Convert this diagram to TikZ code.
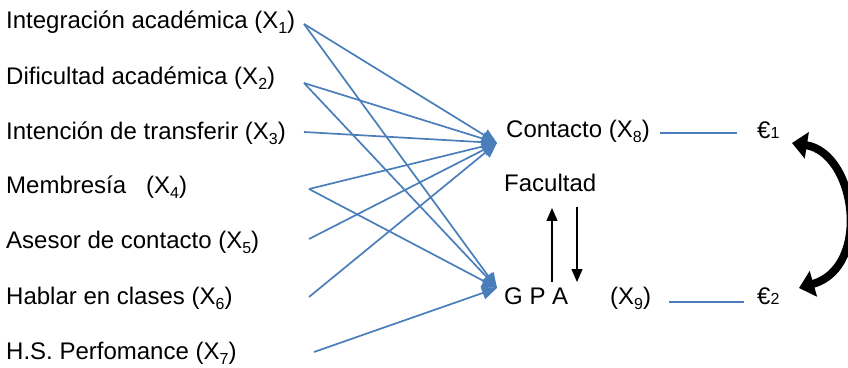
\documentclass[tikz,border=0pt]{standalone}
\usepackage{fontspec}
\setmainfont{Liberation Sans}
\usetikzlibrary{arrows.meta}
\definecolor{lineblue}{HTML}{4A7EBB}
\newcommand{\sbs}[1]{\raisebox{-5pt}{\fontsize{16}{16}\selectfont #1}}
\begin{document}
\begin{tikzpicture}[x=1pt,y=1pt,
  lbl/.style={anchor=base west, inner sep=0pt, font=\fontsize{24}{28}\selectfont},
  path/.style={draw=lineblue, line width=1.7pt, -{Triangle[length=15pt,width=13pt]}},
  plain/.style={draw=lineblue, line width=1.7pt},
  blk/.style={draw=black, line width=1.3pt, -{Triangle[length=13pt,width=11pt]}},
  corr/.style={draw=black, line width=8pt, {Triangle[length=15pt,width=26pt]}-{Triangle[length=15pt,width=26pt]}}]
\useasboundingbox (0,0) rectangle (848,367);
% left labels
\node[lbl] (x1) at (6,338) {Integración académica (X\sbs{1})};
\node[lbl] (x2) at (6,282) {Dificultad académica (X\sbs{2})};
\node[lbl] (x3) at (6,227) {Intención de transferir (X\sbs{3})};
\node[lbl] (x4) at (6,173) {Membresía \ \ (X\sbs{4})};
\node[lbl] (x5) at (6,118) {Asesor de contacto (X\sbs{5})};
\node[lbl] (x6) at (6,63) {Hablar en clases (X\sbs{6})};
\node[lbl] (x7) at (6,8) {H.S. Perfomance (X\sbs{7})};
% right labels
\node[lbl] (con) at (506,229) {Contacto (X\sbs{8})};
\node[lbl] (fac) at (504,175) {Facultad};
\node[lbl] (gpa) at (504,63) {G P A};
\node[lbl] (x9) at (610,63) {(X\sbs{9})};
\node[lbl] (e1) at (757,228) {€{\fontsize{16}{16}\selectfont 1}};
\node[lbl] (e2) at (757,63) {€{\fontsize{16}{16}\selectfont 2}};
% coordinates
\coordinate (s1) at (304,343);
\coordinate (s2) at (304,284);
\coordinate (s3) at (304,235);
\coordinate (s4) at (309,178);
\coordinate (s5) at (309,128);
\coordinate (s6) at (309,70);
\coordinate (s7) at (314,15);
\coordinate (tc) at (497,224);
\coordinate (tg) at (497,79);
% paths
\draw[path] (s1) -- (tc);
\draw[path] (s1) -- (tg);
\draw[path] (s2) -- (tc);
\draw[path] (s2) -- (tg);
\draw[path] (s3) -- (tc);
\draw[path] (s4) -- (tc);
\draw[path] (s4) -- (tg);
\draw[path] (s5) -- (tc);
\draw[path] (s6) -- (tc);
\draw[path] (s7) -- (tg);
% error lines
\coordinate (l1a) at (660,234);
\coordinate (l1b) at (737,234);
\coordinate (l2a) at (669,65);
\coordinate (l2b) at (744,65);
\draw[plain] (l1a) -- (l1b);
\draw[plain] (l2a) -- (l2b);
% facultad arrows
\coordinate (ua) at (552,85);
\coordinate (ub) at (552,159);
\coordinate (da) at (577,160);
\coordinate (db) at (577,85);
\draw[blk] (ua) -- (ub);
\draw[blk] (da) -- (db);
% correlation arrow
\coordinate (c1) at (792,224);
\coordinate (c2) at (799,79);
\draw[corr] (c1) .. controls (856,214) and (872,100) .. (c2);
\end{tikzpicture}
\end{document}
